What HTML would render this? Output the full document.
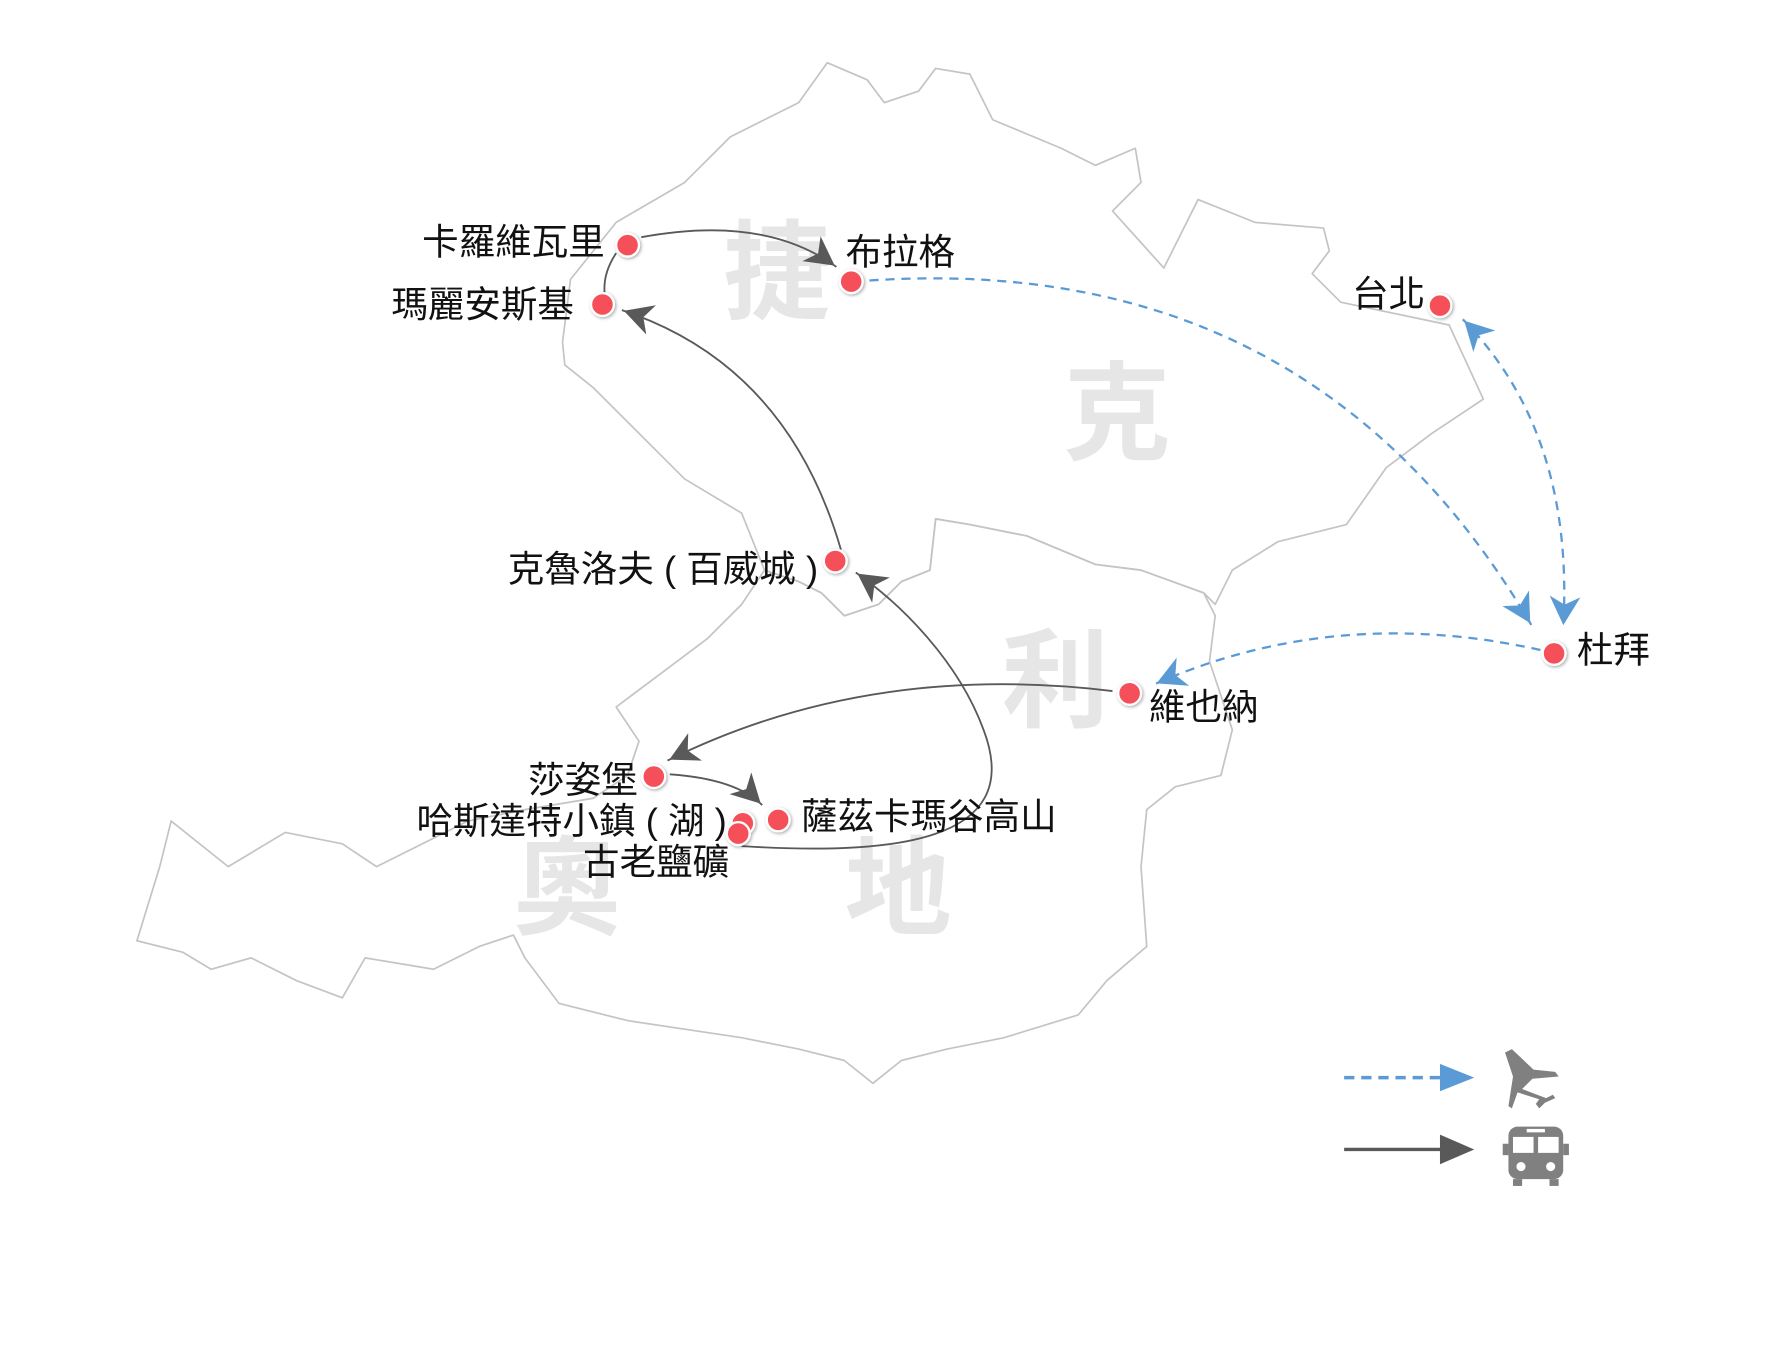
<!DOCTYPE html>
<html><head><meta charset="utf-8"><style>
html,body{margin:0;padding:0;background:#fff;width:1780px;height:1349px;overflow:hidden}
svg{display:block}
.lb{font-family:"Liberation Sans","Noto Sans CJK TC",sans-serif;font-size:32px;fill:#111}
.wm{font-family:"Liberation Sans","Noto Sans CJK TC",sans-serif;font-size:94px;font-weight:bold;fill:#e6e6e6}
</style></head><body>
<svg width="1780" height="1349" viewBox="0 0 1560 1183" preserveAspectRatio="none" xmlns="http://www.w3.org/2000/svg">
<defs>
<marker id="ag" viewBox="0 0 10 10" refX="8" refY="5" markerWidth="9" markerHeight="9" markerUnits="userSpaceOnUse" orient="auto" style="overflow:visible"><path d="M-22,-10 L6,5 L-22,20 L-14,5 Z" fill="#595959"/></marker>
<marker id="ab" viewBox="0 0 10 10" refX="8" refY="5" markerWidth="9" markerHeight="9" markerUnits="userSpaceOnUse" orient="auto" style="overflow:visible"><path d="M-22,-10 L6,5 L-22,20 L-14,5 Z" fill="#5b9bd5"/></marker>
<marker id="abs" viewBox="0 0 10 10" refX="8" refY="5" markerWidth="9" markerHeight="9" markerUnits="userSpaceOnUse" orient="auto-start-reverse" style="overflow:visible"><path d="M-22,-10 L6,5 L-22,20 L-14,5 Z" fill="#5b9bd5"/></marker>
<filter id="sh" x="-50%" y="-50%" width="200%" height="200%"><feDropShadow dx="1" dy="1" stdDeviation="1.5" flood-color="#000" flood-opacity="0.35"/></filter>
</defs>
<g fill="none" stroke="#c4c4c4" stroke-width="1.5" stroke-linejoin="round">
<path d="M493,300 L500,245 L540,195 L600,160 L640,120 L700,90 L725,55 L760,70 L775,90 L805,80 L820,60 L850,65 L870,105 L930,130 L960,145 L995,130 L1000,160 L975,185 L1020,235 L1050,175 L1100,195 L1160,200 L1165,220 L1150,240 L1175,265 L1270,285 L1300,350 L1255,380 L1215,410 L1180,460 L1120,475 L1080,500 L1065,530 L1055,520 L1000,500 L960,495 L900,470 L850,460 L820,455 L815,500 L790,510 L770,530 L740,540 L720,520 L700,510 L670,500 L650,450 L600,420 L560,380 L520,340 L495,320 Z"/>
<path d="M820,455 L850,460 L900,470 L960,495 L1000,500 L1055,520 L1065,540 L1060,580 L1080,640 L1070,680 L1030,690 L1005,710 L1000,760 L1005,830 L970,860 L945,890 L880,910 L830,920 L790,930 L765,950 L740,930 L700,920 L650,910 L550,895 L490,880 L460,840 L450,820 L420,830 L380,850 L320,840 L300,875 L260,860 L220,840 L185,850 L160,835 L120,825 L140,760 L150,720 L200,760 L250,730 L300,740 L330,760 L370,740 L410,720 L460,710 L520,700 L550,680 L560,650 L540,620 L580,590 L620,560 L650,530 L670,500 L700,510 L720,520 L740,540 L770,530 L790,510 L815,500 Z"/>
</g>
<text class="wm" x="634" y="272">捷</text>
<text class="wm" x="932" y="396">克</text>
<text class="wm" x="878" y="630">利</text>
<text class="wm" x="450" y="812">奧</text>
<text class="wm" x="740" y="812">地</text>
<g fill="none" stroke="#595959" stroke-width="1.6">
<path d="M562,208 Q670,188 733,234" marker-end="url(#ag)"/>
<path d="M540,222 Q528,240 530,258"/>
<path d="M737,482 Q690,320 545,272" marker-end="url(#ag)"/>
<path d="M650,742 C780,750 900,740 862,640 C840,580 790,530 750,502" marker-end="url(#ag)"/>
<path d="M975,606 Q760,580 585,667" marker-end="url(#ag)"/>
<path d="M587,679 Q645,683 668,706" marker-end="url(#ag)"/>
</g>
<g fill="none" stroke="#5b9bd5" stroke-width="2" stroke-dasharray="8,6">
<path d="M762,246 Q1150,220 1342,548" marker-end="url(#ab)"/>
<path d="M1282,280 Q1380,380 1370,550" marker-start="url(#abs)" marker-end="url(#ab)"/>
<path d="M1350,570 Q1170,530 1012,600" marker-end="url(#ab)"/>
</g>
<g fill="#f5505a" stroke="#fff" stroke-width="2" filter="url(#sh)">
<circle cx="550" cy="215" r="10"/><circle cx="746" cy="247" r="10"/><circle cx="528" cy="267" r="10"/>
<circle cx="1262" cy="268" r="10"/><circle cx="732" cy="492" r="10"/><circle cx="1362" cy="573" r="10"/>
<circle cx="990" cy="608" r="10"/><circle cx="573" cy="681" r="10"/><circle cx="682" cy="719" r="10"/>
<circle cx="651" cy="722" r="10"/><circle cx="647" cy="731" r="10"/>
</g>
<text class="lb" x="530" y="223" text-anchor="end">卡羅維瓦里</text>
<text class="lb" x="741" y="232">布拉格</text>
<text class="lb" x="503" y="278" text-anchor="end">瑪麗安斯基</text>
<text class="lb" x="1249" y="269" text-anchor="end">台北</text>
<text class="lb" x="717" y="510" text-anchor="end">克魯洛夫 ( 百威城 )</text>
<text class="lb" x="1382" y="581">杜拜</text>
<text class="lb" x="1007" y="631">維也納</text>
<text class="lb" x="559" y="695" text-anchor="end">莎姿堡</text>
<text class="lb" x="702" y="727">薩茲卡瑪谷高山</text>
<text class="lb" x="637" y="731" text-anchor="end">哈斯達特小鎮 ( 湖 )</text>
<text class="lb" x="511" y="767">古老鹽礦</text>
<line x1="1178" y1="945" x2="1268" y2="945" stroke="#5b9bd5" stroke-width="3" stroke-dasharray="9,6"/>
<path d="M1262,933 L1292,945 L1262,957 Z" fill="#5b9bd5"/>
<line x1="1178" y1="1008" x2="1268" y2="1008" stroke="#595959" stroke-width="3"/>
<path d="M1262,995 L1292,1008 L1262,1021 Z" fill="#595959"/>
<g fill="#808080">
<path d="M1319,923 L1325,920 L1344,938 L1363,940 L1366,944 L1343,946 L1334,955 L1355,963 L1361,960 L1363,963 L1354,967 L1349,972 L1346,968 L1349,964 L1330,958 L1325,972 L1322,970 L1326,944 Z"/>
<rect x="1322" y="988" width="48" height="46" rx="8"/>
<rect x="1317" y="1003" width="5" height="10"/><rect x="1370" y="1003" width="5" height="10"/>
<rect x="1326" y="1034" width="8" height="6"/><rect x="1358" y="1034" width="8" height="6"/>
<rect x="1326" y="997" width="18" height="14" fill="#fff"/><rect x="1348" y="997" width="18" height="14" fill="#fff"/>
<rect x="1338" y="990" width="16" height="3" fill="#fff"/>
<circle cx="1333" cy="1023" r="4" fill="#fff"/><circle cx="1359" cy="1023" r="4" fill="#fff"/>
</g>
</svg>
</body></html>
